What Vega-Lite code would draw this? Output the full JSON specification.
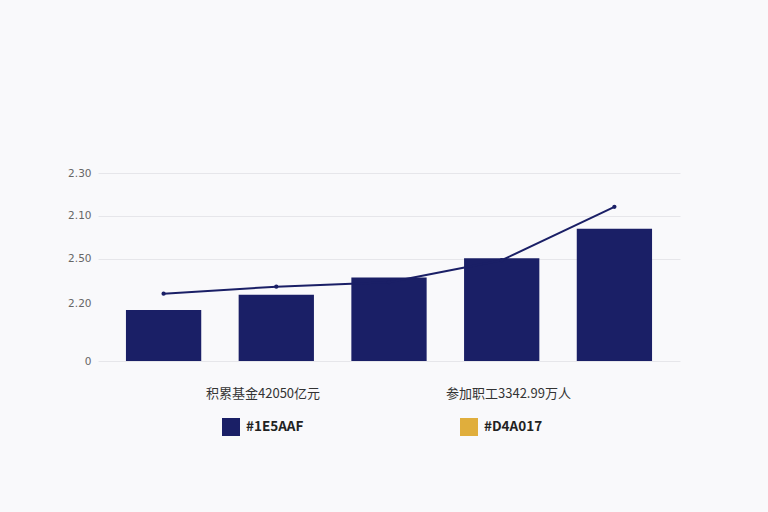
{
  "$schema": "https://vega.github.io/schema/vega-lite/v6.json",
  "width": 582,
  "height": 188,
  "autosize": {"type": "none"},
  "padding": {"left": 98, "top": 173, "right": 88, "bottom": 151},
  "background": "#f9f9fb",
  "config": {
    "view": {"stroke": null},
    "font": "Noto Sans CJK SC"
  },
  "data": {
    "values": [
      {"cat": "1", "bar": 27.1, "line": 35.8, "swatch": "#1E5AAF", "note": "积累基金42050亿元"},
      {"cat": "2", "bar": 35.2, "line": 39.5, "swatch": "#1E5AAF", "note": "积累基金42050亿元"},
      {"cat": "3", "bar": 44.4, "line": 41.9, "swatch": "#1E5AAF", "note": "积累基金42050亿元"},
      {"cat": "4", "bar": 54.7, "line": 53.6, "swatch": "#1E5AAF", "note": "积累基金42050亿元"},
      {"cat": "5", "bar": 70.4, "line": 82.0, "swatch": "#1E5AAF", "note": "积累基金42050亿元"}
    ]
  },
  "encoding": {
    "x": {
      "field": "cat",
      "type": "nominal",
      "axis": null,
      "scale": {"paddingInner": 0.332, "paddingOuter": 0.248}
    }
  },
  "layer": [
    {
      "mark": {"type": "bar"},
      "encoding": {
        "y": {
          "field": "bar",
          "type": "quantitative",
          "scale": {"domain": [0, 100], "nice": false},
          "axis": {
            "title": null,
            "values": [0, 30.8, 54.35, 77.3, 100],
            "labelExpr": "datum.value == 100 ? '2.30' : datum.value > 70 ? '2.10' : datum.value > 50 ? '2.50' : datum.value > 20 ? '2.20' : '0'",
            "ticks": false,
            "domain": false,
            "labelPadding": 7,
            "labelFontSize": 10.5,
            "labelColor": "#666666",
            "labelFont": "DejaVu Sans",
            "gridColor": "#e6e6ea",
            "gridOpacity": {"condition": {"test": "datum.value > 20 && datum.value < 40", "value": 0}, "value": 1}
          }
        },
        "color": {
          "field": "swatch",
          "type": "nominal",
          "scale": {"domain": ["#1E5AAF", "#D4A017"], "range": ["#1a1f66", "#E0AE3C"]},
          "legend": {
            "orient": "none",
            "legendX": 124,
            "legendY": 245,
            "direction": "horizontal",
            "title": null,
            "symbolType": "square",
            "symbolSize": 324,
            "symbolStrokeWidth": 0,
            "labelOffset": 6,
            "columnPadding": 156,
            "labelFontSize": 13.5,
            "labelFontWeight": 600,
            "labelColor": "#222222",
            "labelFont": "Noto Sans CJK SC"
          }
        }
      }
    },
    {
      "mark": {"type": "line", "color": "#1a1f66", "strokeWidth": 2},
      "encoding": {
        "y": {"field": "line", "type": "quantitative"}
      }
    },
    {
      "mark": {"type": "point", "filled": true, "color": "#1a1f66", "size": 18, "opacity": 1},
      "encoding": {
        "y": {"field": "line", "type": "quantitative"},
        "shape": {
          "field": "note",
          "type": "nominal",
          "scale": {"domain": ["积累基金42050亿元", "参加职工3342.99万人"], "range": ["circle", "circle"]},
          "legend": {
            "orient": "none",
            "legendX": 95,
            "legendY": 214,
            "direction": "horizontal",
            "title": null,
            "symbolSize": 0,
            "symbolOpacity": 0,
            "labelOffset": 0,
            "columnPadding": 112,
            "labelFontSize": 13,
            "labelColor": "#333333",
            "labelFont": "Noto Sans CJK SC"
          }
        }
      }
    }
  ]
}
